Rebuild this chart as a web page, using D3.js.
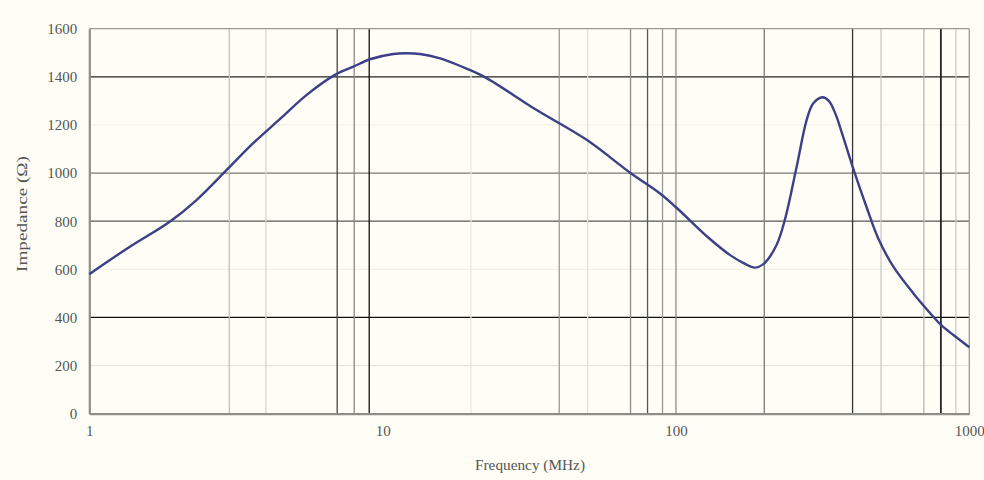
<!DOCTYPE html>
<html>
<head>
<meta charset="utf-8">
<script src="https://cdn.jsdelivr.net/npm/d3@7"></script>
<style>
  body { margin: 0; background: #fefef7; }
  svg { display: block; }
  .tick-label { font-family: "Liberation Serif", "DejaVu Serif", serif; font-size: 15px; fill: #555; }
  .title { font-family: "Liberation Serif", "DejaVu Serif", serif; font-size: 15px; fill: #555; }
</style>
</head>
<body>
<div id="chart"></div>
<script>
// Frequency (MHz) and impedance (ohm)
let freqs = [1, 1.375, 1.88, 2.32, 2.94, 3.62, 4.47, 5.51, 6.88, 7.95, 9.05, 10.87, 12, 13.4, 15.7, 18.4, 22, 33.5, 49.6, 70, 88, 100, 130, 153, 170, 186, 200, 220, 235, 258, 279, 294, 316, 332, 350, 372, 400, 446, 489, 551, 645, 754, 800, 883, 1000];
let impedance = [580, 694, 798, 888, 1013, 1124, 1225, 1325, 1408, 1442, 1473, 1495, 1498, 1495, 1477, 1445, 1403, 1262, 1138, 1000, 916, 858, 728, 659, 626, 607, 625, 700, 805, 1027, 1221, 1290, 1315, 1300, 1245, 1148, 1027, 860, 729, 611, 500, 403, 369, 327, 276];

let yTicks = [0, 200, 400, 600, 800, 1000, 1200, 1400, 1600];
let xTicks = [1, 10, 100, 1000];
let xGrid = [3, 4, 7, 8, 9, 20, 40, 50, 70, 80, 90, 100, 200, 400, 500, 700, 800, 900];

// grid line colours, as they appear in the picture
let xGridColor = {3: "#c4c1b6", 4: "#d8d5ca", 7: "#444", 8: "#8a8a86", 9: "#111",
  20: "#ebe8dd", 40: "#9a9a94", 50: "#e4e1d6", 70: "#8a8a86", 80: "#555", 90: "#9a9a94",
  100: "#8a8a86", 200: "#7a7a76", 400: "#333", 500: "#cdcac0", 700: "#b8b6ae", 800: "#222", 900: "#cdcac0"};
let yGridColor = {200: "#e9e7dc", 400: "#111", 600: "#f3f1e7", 800: "#555", 1000: "#7a7a76", 1200: "#f3f1e7", 1400: "#222"};

let svgWidth = 984;
let svgHeight = 480;
let margin = { top: 28.7, right: 14.7, bottom: 66.3, left: 89.3 };
let chartWidth = svgWidth - margin.left - margin.right;
let chartHeight = svgHeight - margin.top - margin.bottom;

let svg = d3.select("#chart")
  .append("svg")
  .attr("width", svgWidth)
  .attr("height", svgHeight);

svg.append("rect")
  .attr("width", svgWidth)
  .attr("height", svgHeight)
  .attr("fill", "#fefef7");

let chartGroup = svg.append("g")
  .attr("transform", `translate(${margin.left}, ${margin.top})`);

let xScale = d3.scaleLog()
  .domain([1, 1000])
  .range([0, chartWidth]);

let yScale = d3.scaleLinear()
  .domain([0, 1600])
  .range([chartHeight, 0]);

// horizontal grid
chartGroup.append("g")
  .selectAll("line")
  .data(yTicks.filter(d => yGridColor[d]))
  .join("line")
  .attr("x1", 0)
  .attr("x2", chartWidth)
  .attr("y1", d => yScale(d))
  .attr("y2", d => yScale(d))
  .attr("stroke", d => yGridColor[d])
  .attr("stroke-width", 1.3);

// vertical grid
chartGroup.append("g")
  .selectAll("line")
  .data(xGrid)
  .join("line")
  .attr("x1", d => xScale(d))
  .attr("x2", d => xScale(d))
  .attr("y1", 0)
  .attr("y2", chartHeight)
  .attr("stroke", d => xGridColor[d])
  .attr("stroke-width", d => d === 800 ? 1.8 : 1.3);

// frame: top and right thin, left and bottom heavier
chartGroup.append("line")
  .attr("x1", 0).attr("x2", chartWidth)
  .attr("y1", 0).attr("y2", 0)
  .attr("stroke", "#9a9892").attr("stroke-width", 1.3);
chartGroup.append("line")
  .attr("x1", chartWidth).attr("x2", chartWidth)
  .attr("y1", 0).attr("y2", chartHeight)
  .attr("stroke", "#9a9892").attr("stroke-width", 1.3);

let bottomAxis = d3.axisBottom(xScale)
  .tickValues(xTicks)
  .tickFormat(d3.format("d"))
  .tickSize(0)
  .tickPadding(12);
let leftAxis = d3.axisLeft(yScale)
  .tickValues(yTicks)
  .tickFormat(d3.format("d"))
  .tickSize(0)
  .tickPadding(12);

let xAxisG = chartGroup.append("g")
  .attr("transform", `translate(0, ${chartHeight})`)
  .call(bottomAxis);
let yAxisG = chartGroup.append("g")
  .call(leftAxis);

[xAxisG, yAxisG].forEach(g => {
  g.select(".domain").attr("stroke", "#8e8c86").attr("stroke-width", 2.2);
  g.selectAll("text").attr("class", "tick-label").attr("fill", null);
  g.attr("font-family", null).attr("font-size", null);
});

// curve
let drawLine = d3.line()
  .x((d, i) => xScale(freqs[i]))
  .y(d => yScale(d))
  .curve(d3.curveCatmullRom.alpha(0.5));

chartGroup.append("path")
  .attr("d", drawLine(impedance))
  .attr("fill", "none")
  .attr("stroke", "#3d3f88")
  .attr("stroke-width", 2.4);

// axis titles
svg.append("text")
  .attr("class", "title")
  .attr("x", 530)
  .attr("y", 470)
  .attr("text-anchor", "middle")
  .attr("textLength", 110)
  .attr("lengthAdjust", "spacingAndGlyphs")
  .text("Frequency (MHz)");

svg.append("text")
  .attr("class", "title")
  .attr("transform", "translate(27, 214) rotate(-90)")
  .attr("text-anchor", "middle")
  .attr("textLength", 116)
  .attr("lengthAdjust", "spacingAndGlyphs")
  .text("Impedance (Ω)");
</script>
</body>
</html>
